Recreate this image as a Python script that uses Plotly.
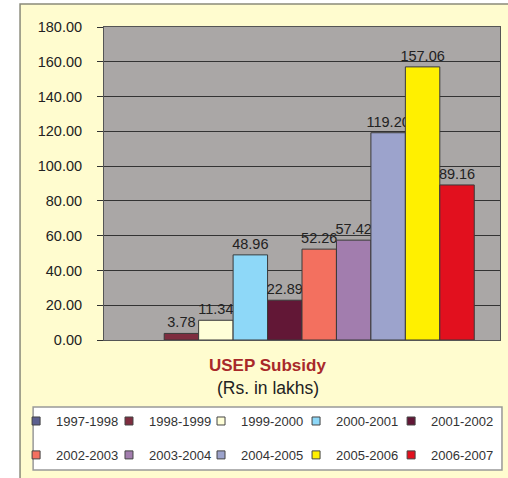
import plotly.graph_objects as go

# one category, one trace per financial year
years = ["1997-1998", "1998-1999", "1999-2000", "2000-2001", "2001-2002",
         "2002-2003", "2003-2004", "2004-2005", "2005-2006", "2006-2007"]
subsidy = [0.00, 3.78, 11.34, 48.96, 22.89, 52.26, 57.42, 119.20, 157.06, 89.16]
colors = ["#5C6090", "#7E2D3F", "#FFFFD8", "#8ED8F8", "#621736",
          "#F3705F", "#A27DAE", "#9CA3CC", "#FFF000", "#E2101E"]
y_ticks = [0, 20, 40, 60, 80, 100, 120, 140, 160, 180]

# legend laid out as 5 columns of 2 rows
legend_cols = ["legend", "legend2", "legend3", "legend4", "legend5"]
legend_x = [-0.222, 0.0126, 0.245, 0.485, 0.725]

fig = go.Figure()
for i, (yr, val, col) in enumerate(zip(years, subsidy, colors)):
    fig.add_trace(go.Bar(
        x=["USEP"], y=[val], name=yr, showlegend=False,
        marker=dict(color=col, line=dict(color="#3a3a3a", width=1 if val > 0 else 0)),
        text=[f"{val:.2f}" if val > 0 else ""],
        textposition="outside",
        constraintext="none",
        cliponaxis=False,
        textfont=dict(size=14.5, color="#222222"),
        hoverinfo="skip",
    ))
    # small square legend swatches (dummy traces, no data drawn)
    fig.add_trace(go.Scatter(
        x=[None], y=[None], mode="markers", name=yr, legendgroup=yr,
        marker=dict(symbol="square", size=8, color=col, line=dict(color="#444444", width=1)),
        legend=legend_cols[i % 5],
    ))

# outer cream panel + gray plot area, drawn as shapes
fig.add_shape(type="rect", xref="paper", yref="paper",
              x0=-0.212, x1=1.05, y0=-0.5, y1=1.0735,
              fillcolor="#FFFCCF", line=dict(color="#8a8a7a", width=1.5), layer="below")
fig.add_shape(type="rect", xref="paper", yref="paper",
              x0=0, x1=1, y0=0, y1=1,
              fillcolor="#AAA7A6", line=dict(width=0), layer="below")
# legend box
fig.add_shape(type="rect", xref="paper", yref="paper",
              x0=-0.179, x1=1.005, y0=-0.415, y1=-0.214,
              fillcolor="white", line=dict(color="#999999", width=1.5), layer="below")

fig.add_annotation(text="<b>USEP Subsidy</b>", xref="paper", yref="paper",
                   x=0.414, y=-0.080, yanchor="middle", showarrow=False,
                   font=dict(size=17, color="#A8282A"))
fig.add_annotation(text="(Rs. in lakhs)", xref="paper", yref="paper",
                   x=0.414, y=-0.153, yanchor="middle", showarrow=False,
                   font=dict(size=17.5, color="#222222"))

legend_style = dict(orientation="v", xanchor="left", yanchor="top", y=-0.211,
                    bgcolor="rgba(0,0,0,0)", itemwidth=30, tracegroupgap=14,
                    font=dict(size=13, color="#333333"))
fig.update_layout(
    width=508, height=478,
    margin=dict(l=104, r=8, t=27, b=138, autoexpand=False),
    paper_bgcolor="white",
    plot_bgcolor="rgba(0,0,0,0)",
    font=dict(family="Liberation Sans, Arial, sans-serif", color="#222222"),
    barmode="group", bargap=0.13, bargroupgap=0,
    showlegend=True,
    **{name: dict(x=lx, **legend_style) for name, lx in zip(legend_cols, legend_x)},
)
fig.update_yaxes(range=[0, 180], tickvals=y_ticks, tickformat=".2f",
                 tickfont=dict(size=14.5, color="#222222"), ticklabelstandoff=12,
                 showgrid=True, gridcolor="#333333", gridwidth=1,
                 ticks="outside", ticklen=6, tickcolor="#333333",
                 showline=True, linecolor="#555555", mirror=True, zeroline=False)
fig.update_xaxes(showticklabels=False, showline=True, linecolor="#555555", mirror=True)

# page body has a default 8px margin; drop it so the figure fills the window
fig.write_html("out.html", config={"displayModeBar": False},
               post_script="document.body.style.margin = '0';")
